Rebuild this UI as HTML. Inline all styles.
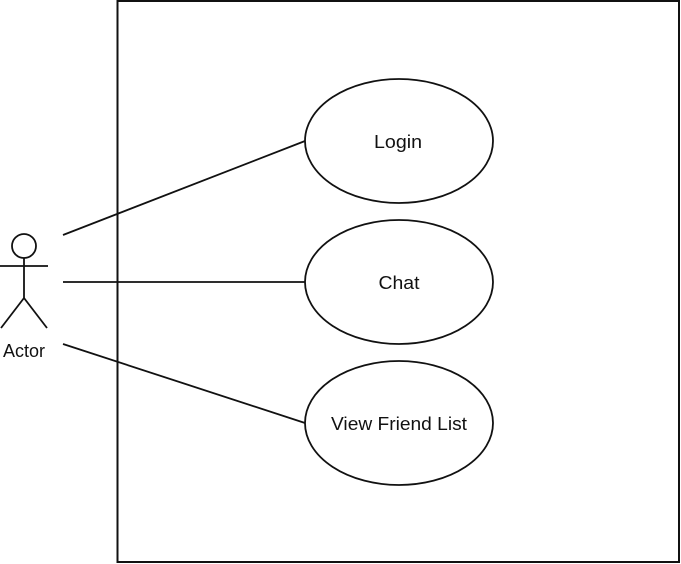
<!DOCTYPE html>
<html><head><meta charset="utf-8"><style>
html,body{margin:0;padding:0;background:#fff;}
svg{display:block;}
text{font-family:"Liberation Sans",Arial,sans-serif;font-size:18px;fill:#111;}
</style></head><body>
<svg width="681" height="564" viewBox="0 0 681 564" xmlns="http://www.w3.org/2000/svg">
<rect x="117.5" y="1" width="561.5" height="561" fill="#fff" stroke="#111" stroke-width="2"/>
<g stroke="#111" stroke-width="1.8" fill="none">
<line x1="63" y1="235" x2="305" y2="141"/>
<line x1="63" y1="282" x2="305" y2="282"/>
<line x1="63" y1="344" x2="305" y2="423"/>
<ellipse cx="399" cy="141" rx="94" ry="62" fill="#fff"/>
<ellipse cx="399" cy="282" rx="94" ry="62" fill="#fff"/>
<ellipse cx="399" cy="423" rx="94" ry="62" fill="#fff"/>
<circle cx="24" cy="246" r="12"/>
<line x1="24" y1="258" x2="24" y2="298"/>
<line x1="0" y1="266" x2="48" y2="266"/>
<line x1="24" y1="298" x2="1" y2="328"/>
<line x1="24" y1="298" x2="47" y2="328"/>
</g>
<text x="398" y="148" text-anchor="middle" textLength="48" lengthAdjust="spacingAndGlyphs">Login</text>
<text x="399" y="289" text-anchor="middle" textLength="41" lengthAdjust="spacingAndGlyphs">Chat</text>
<text x="399" y="430" text-anchor="middle" textLength="136" lengthAdjust="spacingAndGlyphs">View Friend List</text>
<text x="24" y="357" text-anchor="middle" textLength="42" lengthAdjust="spacingAndGlyphs">Actor</text>
</svg>
</body></html>
